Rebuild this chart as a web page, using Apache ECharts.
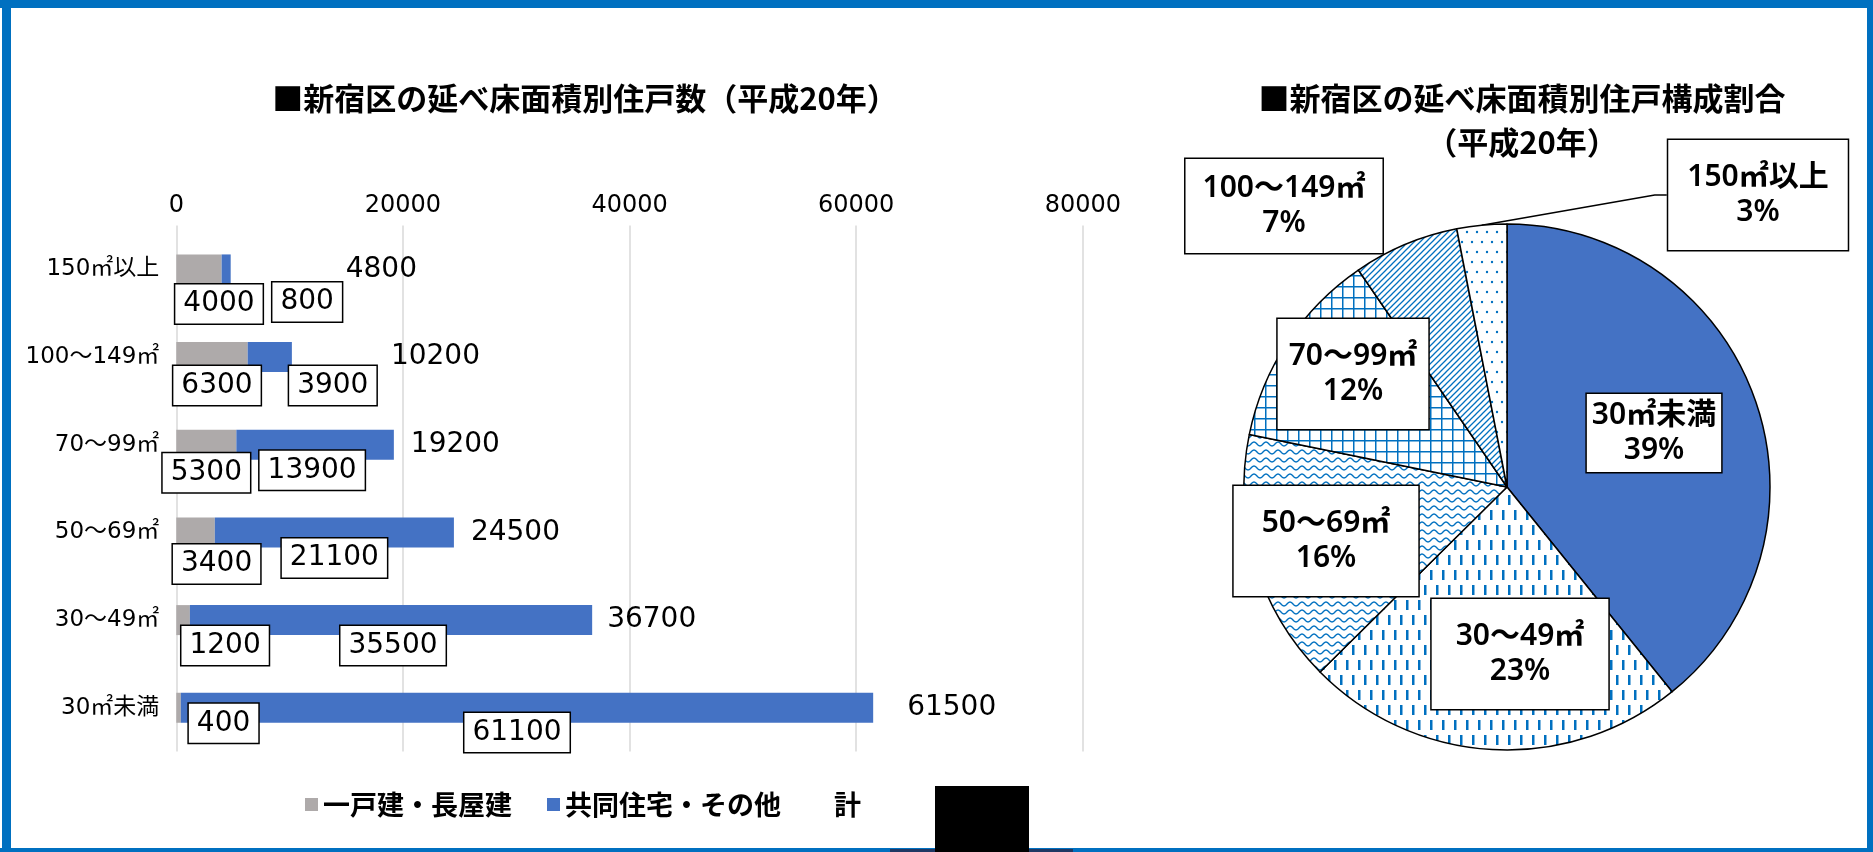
<!DOCTYPE html>
<html>
<head>
<meta charset="utf-8">
<script src="https://cdn.jsdelivr.net/npm/echarts@6/dist/echarts.min.js"></script>
<style>
html,body{margin:0;padding:0;background:#fff;}
#c{width:1873px;height:852px;}
</style>
</head>
<body>
<div id="c"></div>
<script>
// ---------- data ----------
const categories = ['30㎡未満', '30～49㎡', '50～69㎡', '70～99㎡', '100～149㎡', '150㎡以上'];
const detached = [400, 1200, 3400, 5300, 6300, 4000];        // 一戸建・長屋建
const collective = [61100, 35500, 21100, 13900, 3900, 800];  // 共同住宅・その他
const totals = [61500, 36700, 24500, 19200, 10200, 4800];    // 計
const seriesNames = ['一戸建・長屋建', '共同住宅・その他', '計'];
const xMin = 0, xMax = 80000, xStep = 20000;
const barTitle = '■新宿区の延べ床面積別住戸数（平成20年）';
const pieTitle1 = '■新宿区の延べ床面積別住戸構成割合';
const pieTitle2 = '（平成20年）';

// ---------- layout / style (not data) ----------
const detachedNudge = [[45, -19], [42, -9], [21, -3], [0, -6.5], [5, -6], [20, 0]];
const collectiveNudge = [[-10, -9.7], [2, -9], [0, -9], [-3, -9], [63, -6], [81, -2]];
const totalNudge = [34, 15, 17, 17, 99, 115];
const pieLabelPos = [[1654, 433], [1520, 654], [1326, 541], [1353, 374], [1284, 206], [1758, 195]];
const piePad = [[4, 5, 4, 5], [20, 24, 20, 24], [20, 28, 20, 28], [20, 11, 20, 11], [12, 17, 12, 17], [20, 19, 20, 19]];

const LATIN = '"DejaVu Sans", "Noto Sans CJK JP", sans-serif';
const NOTO = '"Noto Sans", "Noto Sans CJK JP", sans-serif';
const CJK = '"Noto Sans CJK JP", sans-serif';
const PAT = '#0070C0';

function makePattern(w, h, draw) {
  const c = document.createElement('canvas');
  c.width = w; c.height = h;
  const ctx = c.getContext('2d');
  ctx.fillStyle = '#fff';
  ctx.fillRect(0, 0, w, h);
  ctx.fillStyle = PAT;
  ctx.strokeStyle = PAT;
  draw(ctx, w, h);
  return { image: c, repeat: 'repeat' };
}
const patDashes = makePattern(12, 30, (ctx) => {
  ctx.fillRect(2, 0, 2.5, 10);
  ctx.fillRect(8, 15, 2.5, 10);
});
const patWave = makePattern(12, 8, (ctx, w) => {
  ctx.lineWidth = 1.4;
  ctx.beginPath();
  for (let x = 0; x <= w; x += 0.5) {
    const y = 4 + 2 * Math.cos(2 * Math.PI * x / w);
    if (x === 0) ctx.moveTo(x, y); else ctx.lineTo(x, y);
  }
  ctx.stroke();
});
const patGrid = makePattern(11, 11, (ctx) => {
  ctx.fillRect(0, 0, 11, 1.5);
  ctx.fillRect(0, 0, 1.5, 11);
});
const patDiag = makePattern(6, 6, (ctx) => {
  ctx.lineWidth = 1.3;
  ctx.beginPath();
  ctx.moveTo(-1, 7); ctx.lineTo(7, -1);
  ctx.moveTo(-1, 1); ctx.lineTo(1, -1);
  ctx.moveTo(5, 7); ctx.lineTo(7, 5);
  ctx.stroke();
});
const patDots = makePattern(10, 20, (ctx) => {
  ctx.beginPath(); ctx.arc(2, 2, 1.2, 0, Math.PI * 2); ctx.fill();
  ctx.beginPath(); ctx.arc(7, 12, 1.2, 0, Math.PI * 2); ctx.fill();
});
const sliceFills = ['#4472C4', patDashes, patWave, patGrid, patDiag, patDots];

const boxLabel = {
  show: true,
  position: 'bottom',
  distance: 0,
  color: '#000',
  fontFamily: LATIN,
  fontSize: 28,
  lineHeight: 33,
  backgroundColor: '#fff',
  borderColor: '#000',
  borderWidth: 1.5,
  padding: [3, 8, 3, 8]
};

const chart = echarts.init(document.getElementById('c'), null, { renderer: 'canvas' });

const option = {
  animation: false,
  backgroundColor: '#fff',
  grid: { left: 176.3, right: 790.2, top: 225.6, height: 526, containLabel: false },
  xAxis: {
    type: 'value',
    position: 'top',
    min: xMin, max: xMax, interval: xStep,
    axisLine: { show: false },
    axisTick: { show: false },
    splitLine: { show: true, lineStyle: { color: '#D9D9D9', width: 1.5 } },
    axisLabel: { color: '#000', fontFamily: LATIN, fontSize: 24, margin: 8, formatter: (v) => String(v) }
  },
  yAxis: {
    type: 'category',
    data: categories,
    axisLine: { show: false },
    axisTick: { show: false },
    axisLabel: { color: '#000', fontFamily: LATIN, fontSize: 23, margin: 17 }
  },
  legend: {
    left: 300,
    top: 786,
    itemWidth: 13,
    itemHeight: 13,
    itemGap: 35,
    icon: 'rect',
    data: seriesNames,
    textStyle: { color: '#000', fontFamily: CJK, fontWeight: 'bold', fontSize: 27 }
  },
  series: [
    {
      name: seriesNames[0], type: 'bar', stack: 'a', barWidth: 30,
      itemStyle: { color: '#AEAAAA' },
      label: boxLabel,
      data: detached.map((v, i) => ({ value: v, label: { offset: detachedNudge[i] } }))
    },
    {
      name: seriesNames[1], type: 'bar', stack: 'a', barWidth: 30,
      itemStyle: { color: '#4472C4' },
      label: boxLabel,
      data: collective.map((v, i) => ({ value: v, label: { offset: collectiveNudge[i] } }))
    },
    {
      name: seriesNames[2], type: 'bar', barWidth: 30, barGap: '-100%', silent: true,
      itemStyle: { color: 'rgba(0,0,0,0)' },
      label: { show: true, position: 'right', distance: 0, color: '#000', fontFamily: LATIN, fontSize: 28 },
      data: totals.map((v, i) => ({ value: v, label: { offset: [totalNudge[i], 0] } }))
    },
    {
      type: 'pie',
      center: [1507, 487],
      radius: 263,
      startAngle: 90,
      clockwise: true,
      avoidLabelOverlap: false,
      percentPrecision: 0,
      emphasis: { disabled: true },
      itemStyle: { borderColor: '#000', borderWidth: 1.5 },
      label: {
        show: true, position: 'outside',
        formatter: '{b}\n{d}%',
        color: '#000', fontFamily: NOTO, fontWeight: 600, fontSize: 30, lineHeight: 35,
        align: 'center',
        backgroundColor: '#fff', borderColor: '#000', borderWidth: 1.5
      },
      labelLine: { show: true, length: 10, length2: 12, lineStyle: { color: '#000', width: 1.5 } },
      labelLayout: function (params) {
        const p = pieLabelPos[params.dataIndex];
        return { x: p[0], y: p[1], align: 'center', verticalAlign: 'middle' };
      },
      data: totals.map((v, i) => ({
        name: categories[i], value: v,
        itemStyle: { color: sliceFills[i] },
        label: { padding: piePad[i] },
        labelLine: { show: i === 5 }
      }))
    }
  ],
  graphic: [
    { type: 'rect', shape: { x: 0, y: 0, width: 1873, height: 8 }, style: { fill: '#0070C0' }, z: 100 },
    { type: 'rect', shape: { x: 2, y: 0, width: 9, height: 852 }, style: { fill: '#0070C0' }, z: 100 },
    { type: 'rect', shape: { x: 1867, y: 0, width: 6, height: 852 }, style: { fill: '#0070C0' }, z: 100 },
    { type: 'rect', shape: { x: 0, y: 848, width: 1873, height: 4 }, style: { fill: '#0070C0' }, z: 100 },
    { type: 'rect', shape: { x: 890, y: 849, width: 183, height: 3 }, style: { fill: '#1F3864' }, z: 101 },
    { type: 'rect', shape: { x: 935, y: 786, width: 94, height: 66 }, style: { fill: '#000' }, z: 102 },
    { type: 'text', x: 585, y: 98, style: { text: barTitle, font: 'bold 31px ' + CJK, fill: '#000', align: 'center', verticalAlign: 'middle' }, z: 100 },
    { type: 'text', x: 1522, y: 98, style: { text: pieTitle1, font: 'bold 31px ' + CJK, fill: '#000', align: 'center', verticalAlign: 'middle' }, z: 100 },
    { type: 'text', x: 1522, y: 142, style: { text: pieTitle2, font: 'bold 31px ' + CJK, fill: '#000', align: 'center', verticalAlign: 'middle' }, z: 100 }
  ]
};
chart.setOption(option);
</script>
</body>
</html>
